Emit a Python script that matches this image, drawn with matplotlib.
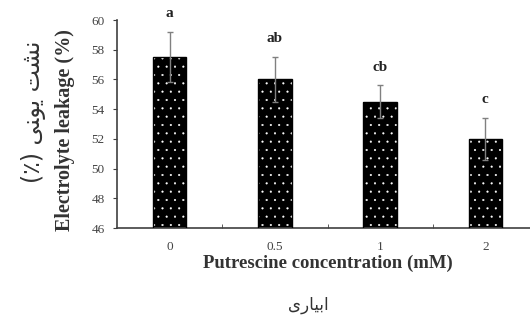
import numpy as np
import matplotlib.pyplot as plt

# Electrolyte leakage under putrescine treatments
conc_labels = ['0', '0.5', '1', '2']
leakage = [57.5, 56.0, 54.5, 52.0]
leakage_err = [1.7, 1.5, 1.1, 1.4]
groups = ['a', 'ab', 'cb', 'c']

# Persian labels written in display order with joined letter forms
fa_ylabel = '(\u066a) \ufef0\ufee8\ufeee\ufef3 \ufe96\ufeb8\ufee7'
fa_xlabel = '\ufeef\ufead\ufe8e\ufef4\ufe91\ufe8d'

plt.rcParams['font.family'] = ['Liberation Serif', 'DejaVu Sans']
plt.rcParams['hatch.linewidth'] = 0.3

fig = plt.figure(figsize=(5.3, 3.21), dpi=100)
ax = fig.add_axes([117/530, 93/321, 421/530, 208/321])

x = np.arange(len(conc_labels))
w = 0.32
# dotted fill, then a plain black outline on top
ax.bar(x, leakage, width=w, color='black', edgecolor='white',
       hatch='..', linewidth=0, zorder=2)
ax.bar(x, leakage, width=w, color='none', edgecolor='black', linewidth=1.0, zorder=3)
ax.errorbar(x, leakage, yerr=leakage_err, fmt='none', ecolor='#808080',
            elinewidth=1.0, capsize=2.2, capthick=1.0, zorder=4)

for xi, m, e, g in zip(x, leakage, leakage_err, groups):
    ax.annotate(g, (xi, m + e), xytext=(0, 8.5), textcoords='offset points',
                ha='center', va='bottom', fontsize=11, fontweight='bold',
                color='#222222', annotation_clip=False)

ax.set_xlim(-0.5, 3.5)
ax.set_ylim(46, 60)
ax.set_yticks(np.arange(46, 61, 2))
ax.set_xticks(x)
ax.set_xticklabels(conc_labels)
ax.set_xticks(x[:-1] + 0.5, minor=True)
ax.tick_params(axis='x', which='major', length=0, pad=9, labelsize=9.5, labelcolor='#444444')
ax.tick_params(axis='x', which='minor', direction='in', length=3, color='#404040')
ax.tick_params(axis='y', direction='out', length=3, color='#404040', labelsize=9.5,
               labelcolor='#444444', pad=6)

for s in ['top', 'right']:
    ax.spines[s].set_visible(False)
for s in ['left', 'bottom']:
    ax.spines[s].set_color('#404040')
    ax.spines[s].set_linewidth(1.2)

ax.set_xlabel('Putrescine concentration (mM)', fontsize=13.5, fontweight='bold',
              color='#333333')
ax.xaxis.set_label_coords(0.5, -(263 - 228) / 208, transform=ax.transAxes)
ax.xaxis.label.set_va('center')
ax.set_ylabel('Electrolyte leakage (%)', fontsize=14.5, fontweight='bold', color='#333333')
ax.yaxis.set_label_coords(-(117 - 65) / 421, (228 - 130) / 208)
ax.yaxis.label.set_va('center')

fig.text(33/530, 1 - 112/321, fa_ylabel, rotation=90, ha='center', va='center',
         fontsize=17, family=['DejaVu Sans'], color='#333333')
fig.text(308/530, 1 - 305/321, fa_xlabel, ha='center', va='center',
         fontsize=12, family=['DejaVu Sans'], color='#333333')

fig.savefig('out.png', dpi=100)
